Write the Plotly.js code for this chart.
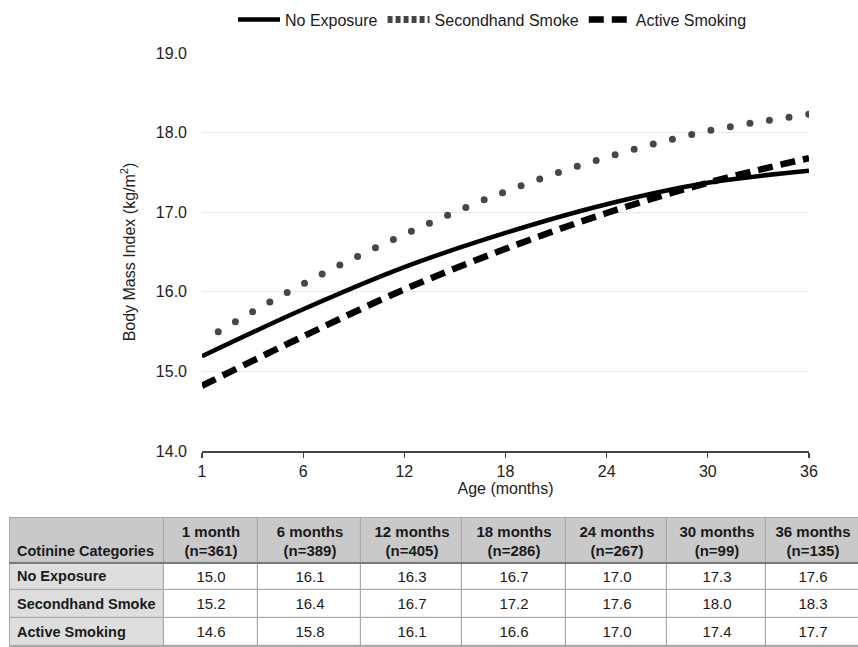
<!DOCTYPE html>
<html>
<head>
<meta charset="utf-8">
<script src="https://cdn.plot.ly/plotly-3.0.1.min.js"></script>
<style>
  html, body { margin: 0; padding: 0; background: #fff; }
  #chart { width: 858px; height: 647px; }
  .scatterlayer .trace:nth-of-type(2) path.js-line { stroke-linecap: round !important; stroke-dashoffset: 1px; }
  .legend .traces:nth-of-type(2) path.js-line { stroke-dasharray: 5px,3px !important; stroke-linecap: butt !important; }
</style>
</head>
<body>
<div id="chart"></div>
<script>
// Age tick labels (months) on the chart's x axis
const ageLabels = ['1', '6', '12', '18', '24', '30', '36'];

// Fitted BMI curves at each age tick
const noExposureCurve    = [15.19, 15.78, 16.31, 16.74, 17.10, 17.37, 17.52];
const secondhandCurve    = [15.38, 16.10, 16.72, 17.26, 17.69, 18.02, 18.23];
const activeSmokingCurve = [14.82, 15.44, 16.03, 16.54, 16.99, 17.37, 17.68];

// Table below the chart
const categories = ['No Exposure', 'Secondhand Smoke', 'Active Smoking'];
const tableHeaderFirst = 'Cotinine Categories';
const tableAges = ['1 month', '6 months', '12 months', '18 months', '24 months', '30 months', '36 months'];
const tableN = [361, 389, 405, 286, 267, 99, 135];
const tableNoExposure = ['15.0', '16.1', '16.3', '16.7', '17.0', '17.3', '17.6'];
const tableSecondhand = ['15.2', '16.4', '16.7', '17.2', '17.6', '18.0', '18.3'];
const tableActive     = ['14.6', '15.8', '16.1', '16.6', '17.0', '17.4', '17.7'];

// ---- layout constants (table geometry in px) ----
const FONT = 'Liberation Sans, Arial, sans-serif';
const W = 858, H = 647;
const colWidths = [154, 94, 103, 101, 104, 101, 99, 94];
const rowHeights = [45, 27, 28, 28];
const firstColPad = 7;

const colEdges = [0];
colWidths.forEach(w => colEdges.push(colEdges[colEdges.length - 1] + w));
const rowEdges = [0];
rowHeights.forEach(h => rowEdges.push(rowEdges[rowEdges.length - 1] + h));
const rowCenters = rowHeights.map((h, i) => rowEdges[i] + h / 2);

const traces = [
  { type: 'scatter', mode: 'lines', name: categories[0], x: ageLabels, y: noExposureCurve,
    line: { color: '#000000', width: 4.5, shape: 'spline', smoothing: 1 } },
  { type: 'scatter', mode: 'lines', name: categories[1], x: ageLabels, y: secondhandCurve,
    line: { color: '#474747', width: 7, shape: 'spline', smoothing: 1, dash: '0px,19.8px' } },
  { type: 'scatter', mode: 'lines', name: categories[2], x: ageLabels, y: activeSmokingCurve,
    line: { color: '#000000', width: 6.5, shape: 'spline', smoothing: 1, dash: '15px,8px' } }
];

// ---- table drawn as a heatmap grid on its own axes ----
const seriesRows = [tableNoExposure, tableSecondhand, tableActive];
const zGrid = [[2].concat(tableAges.map(() => 2))].concat(
  seriesRows.map(r => [1].concat(r.map(() => 0))));
const textGrid = [[''].concat(tableAges.map((a, i) => '<b>' + a + '</b><br><b>(n=' + tableN[i] + ')</b>'))].concat(
  seriesRows.map(r => [''].concat(r)));

traces.push({
  type: 'heatmap', xaxis: 'x2', yaxis: 'y2',
  x: colEdges, y: rowEdges, z: zGrid, text: textGrid,
  texttemplate: '%{text}',
  textfont: { family: FONT, size: 15, color: '#1a1a1a' },
  colorscale: [[0, '#ffffff'], [0.5, '#dedede'], [1, '#c9c9c9']],
  zmin: 0, zmax: 2, showscale: false, xgap: 1.2, ygap: 1.2,
  hoverinfo: 'skip', showlegend: false
});

traces.push({
  type: 'scatter', mode: 'text', xaxis: 'x2', yaxis: 'y2',
  x: [tableHeaderFirst].concat(categories).map(() => firstColPad),
  y: [rowEdges[1] - 11].concat(rowCenters.slice(1).map(c => c + 1)),
  text: [tableHeaderFirst].concat(categories).map(t => '<b>' + t + '</b>'),
  textposition: 'middle right',
  textfont: { family: FONT, size: 14.5, color: '#1a1a1a' },
  hoverinfo: 'skip', showlegend: false, cliponaxis: false
});

const layout = {
  width: W, height: H,
  margin: { l: 0, r: 0, t: 0, b: 0, pad: 0 },
  paper_bgcolor: '#ffffff', plot_bgcolor: '#ffffff',
  font: { family: FONT, color: '#222222' },
  showlegend: true,
  legend: {
    orientation: 'h', x: 0.574, xanchor: 'center', y: 0.996, yanchor: 'top',
    font: { family: FONT, size: 16, color: '#1a1a1a' },
    itemwidth: 42, bgcolor: 'rgba(0,0,0,0)'
  },
  xaxis: {
    type: 'category', domain: [202 / W, 809 / W], range: [0, 6],
    showgrid: false, zeroline: false,
    showline: true, linecolor: '#444444', linewidth: 1.5,
    ticks: 'outside', ticklen: 5, tickcolor: '#444444', tickwidth: 1.2,
    tickfont: { family: FONT, size: 16, color: '#222222' },
    title: { text: 'Age (months)', font: { family: FONT, size: 16, color: '#222222' }, standoff: 1 }
  },
  yaxis: {
    domain: [(H - 451) / H, (H - 53) / H], range: [14, 19], dtick: 1, tick0: 14,
    tickformat: '.1f', showgrid: true, gridcolor: '#e8e8e8', gridwidth: 1,
    zeroline: false, showline: false, ticks: '',
    ticklabelstandoff: 14,
    tickfont: { family: FONT, size: 16, color: '#222222' },
    title: { text: 'Body Mass Index (kg/m<sup>2</sup>)', font: { family: FONT, size: 16, color: '#222222' }, standoff: 16 }
  },
  xaxis2: {
    domain: [9 / W, 1], range: [-1, W - 9 - 1], anchor: 'y2',
    visible: false, showgrid: false, zeroline: false, fixedrange: true
  },
  yaxis2: {
    domain: [0, (H - 517) / H], range: [H - 517 - 1, -1], anchor: 'x2',
    visible: false, showgrid: false, zeroline: false, fixedrange: true
  },
  shapes: [
    { type: 'rect', xref: 'x2 domain', yref: 'y2 domain', x0: 0, x1: 1, y0: 0, y1: 1,
      fillcolor: '#a9a9a9', line: { width: 0 }, layer: 'below' },
    { type: 'line', xref: 'x2 domain', yref: 'y2', x0: 0, x1: 1, y0: rowEdges[1], y1: rowEdges[1],
      line: { color: '#7a7a7a', width: 2 }, layer: 'above' }
  ]
};

Plotly.newPlot('chart', traces, layout, { displayModeBar: false, staticPlot: true });
</script>
</body>
</html>
